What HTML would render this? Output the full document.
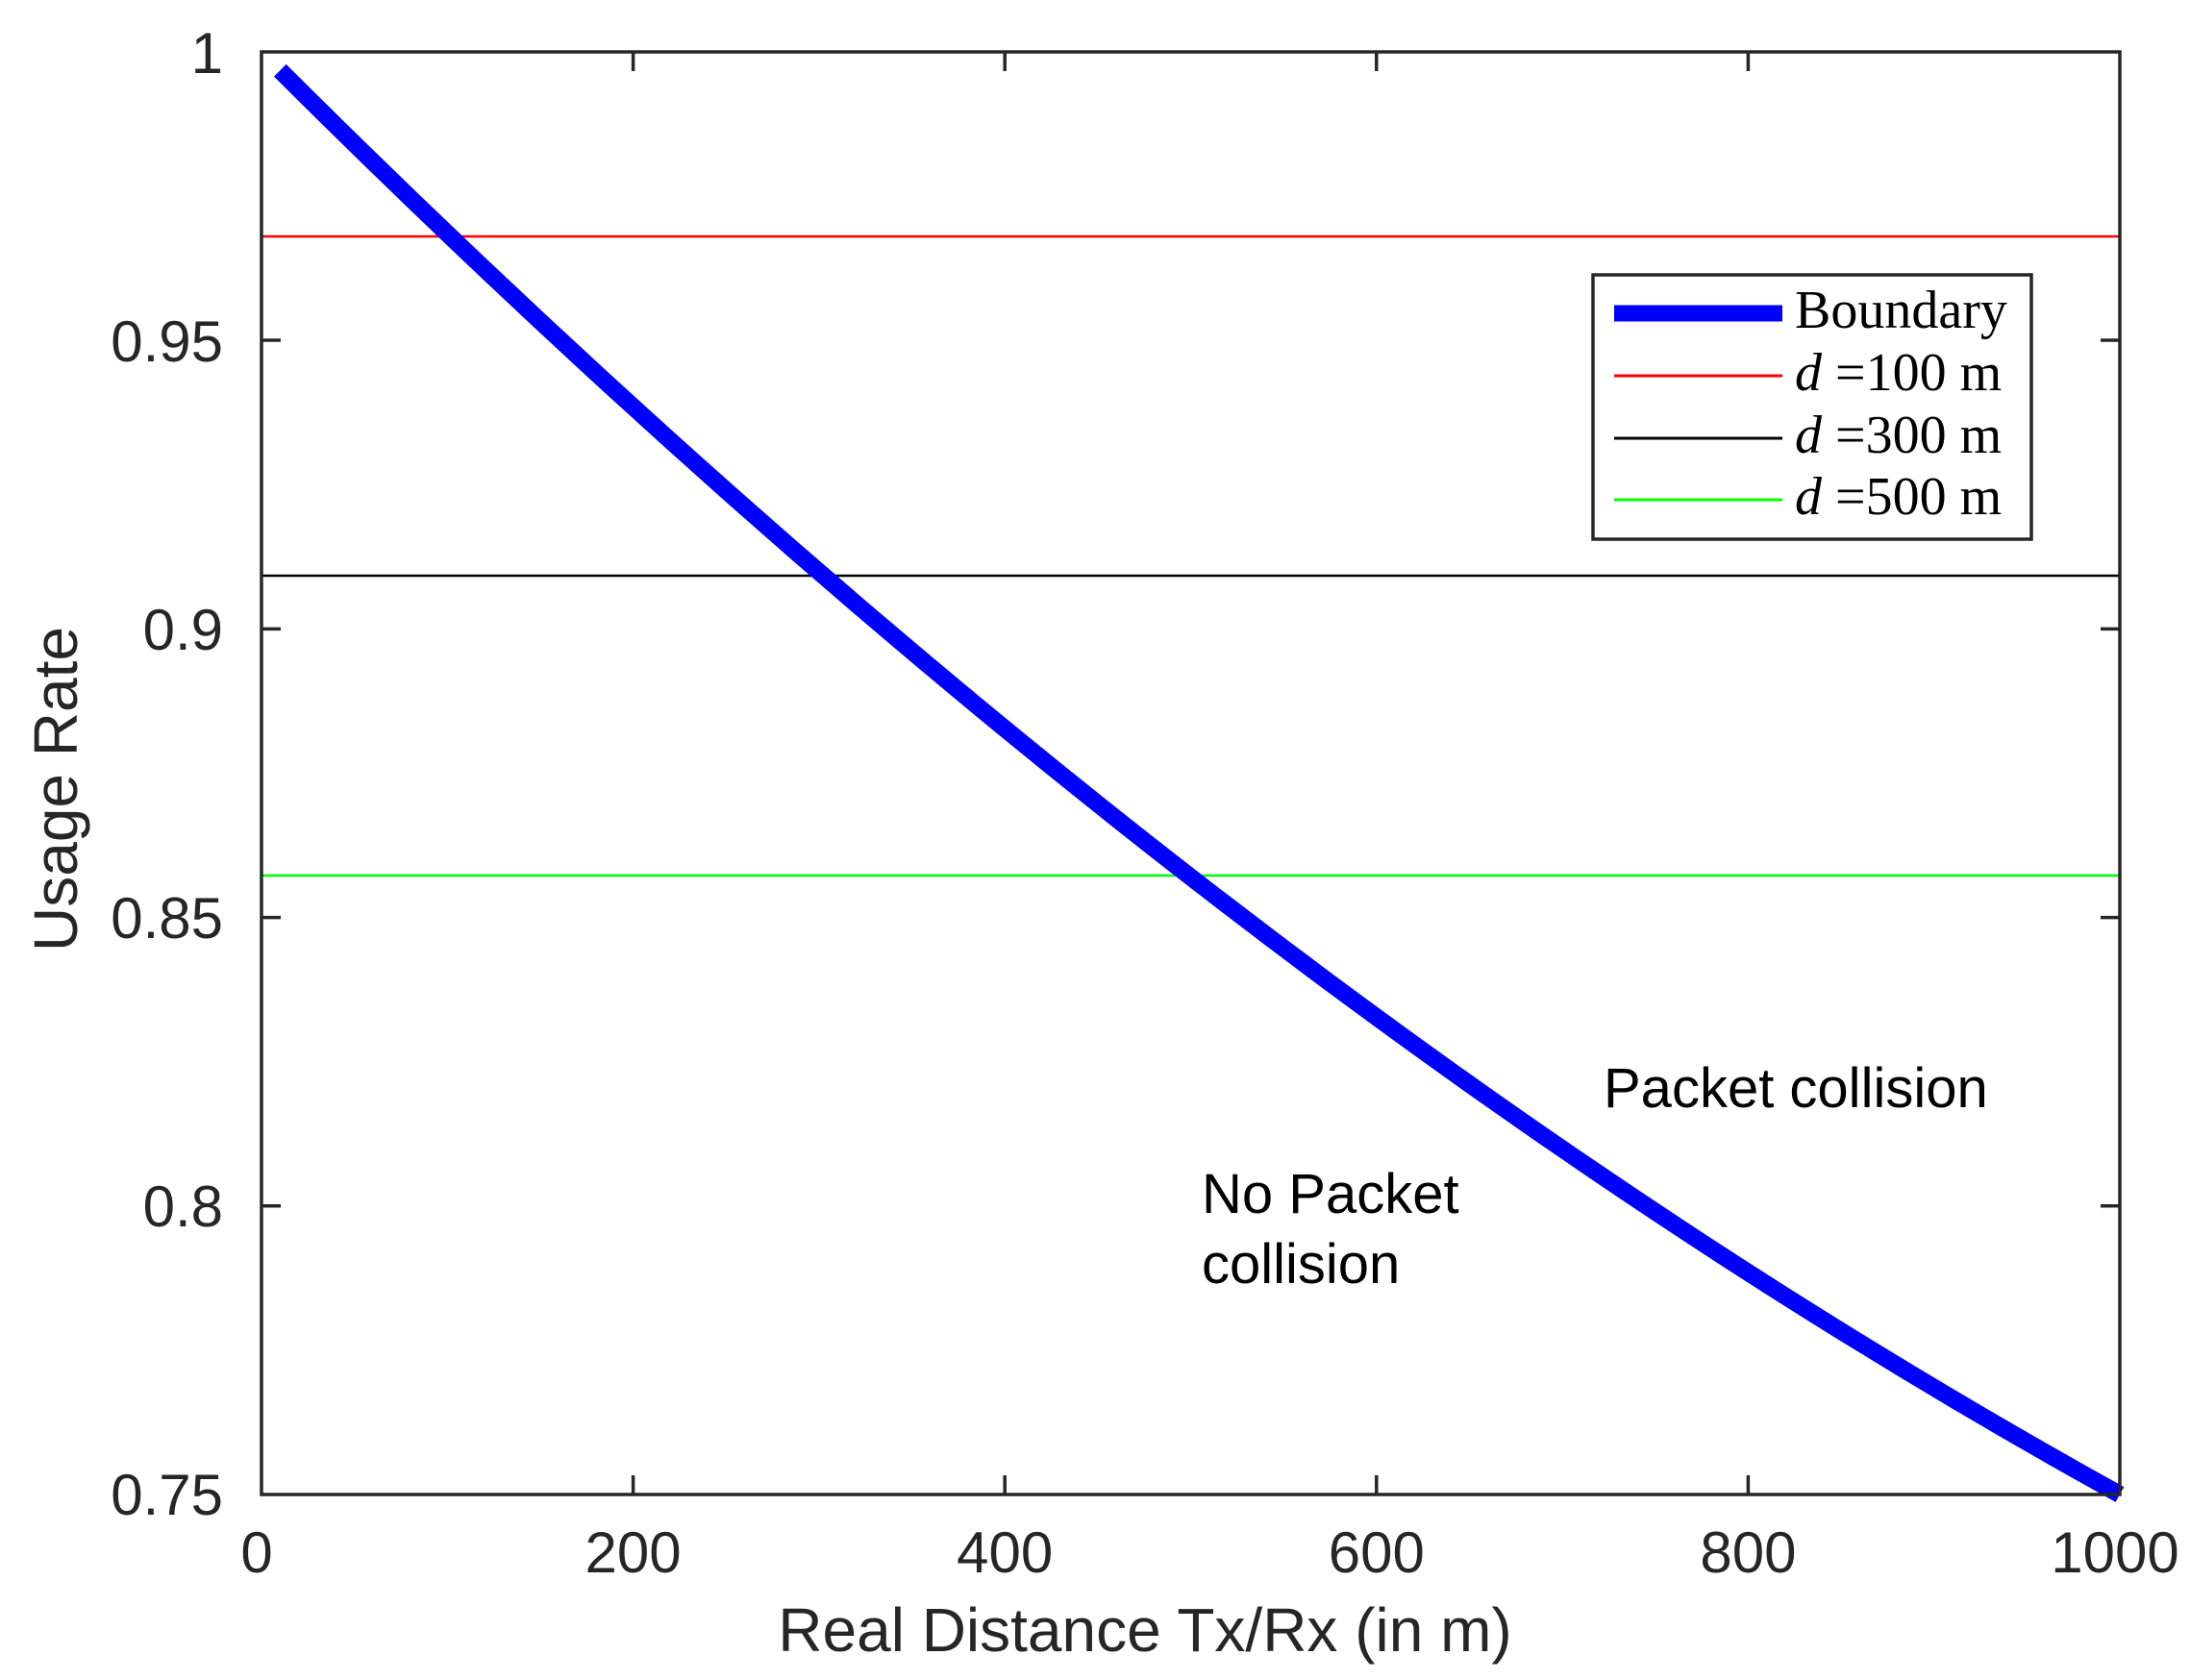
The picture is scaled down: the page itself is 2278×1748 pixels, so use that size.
<!DOCTYPE html>
<html><head><meta charset="utf-8"><style>html,body{margin:0;padding:0;background:#fff}svg{display:block}</style></head>
<body>
<svg width="2278" height="1748" viewBox="0 0 2278 1748" xmlns="http://www.w3.org/2000/svg">
<rect width="2278" height="1748" fill="#fff"/>
<g stroke-width="2.5">
<line x1="272" y1="246" x2="2205" y2="246" stroke="#ff0000"/>
<line x1="272" y1="599" x2="2205" y2="599" stroke="#000"/>
<line x1="272" y1="911" x2="2205" y2="911" stroke="#00ff00"/>
</g>
<path fill="none" stroke="#0000ff" stroke-width="18" d="M291.3,73.3 Q1248.2,1026 2205,1555"/>
<g stroke="#262626" stroke-width="3.5" fill="none">
<rect x="272" y="54" width="1933" height="1501"/>
<path d="M658.6,1555v-20M1045.2,1555v-20M1431.8,1555v-20M1818.4,1555v-20M658.6,54v20M1045.2,54v20M1431.8,54v20M1818.4,54v20M272,354h20M272,654.4h20M272,954.6h20M272,1254.8h20M2205,354h-20M2205,654.4h-20M2205,954.6h-20M2205,1254.8h-20"/>
</g>
<g font-family="Liberation Sans, sans-serif" font-size="60" fill="#262626">
<g text-anchor="end">
<text x="232" y="76">1</text>
<text x="232" y="376">0.95</text>
<text x="232" y="676">0.9</text>
<text x="232" y="976">0.85</text>
<text x="232" y="1276">0.8</text>
<text x="232" y="1576">0.75</text>
</g>
<g text-anchor="middle">
<text x="267" y="1636">0</text>
<text x="658.6" y="1636">200</text>
<text x="1045.2" y="1636">400</text>
<text x="1431.8" y="1636">600</text>
<text x="1818.4" y="1636">800</text>
<text x="2200" y="1636">1000</text>
</g>
<text x="1191" y="1718" text-anchor="middle" font-size="64">Real Distance Tx/Rx (in m)</text>
<text transform="translate(80,821) rotate(-90)" text-anchor="middle" font-size="64">Usage Rate</text>
</g>
<g font-family="Liberation Sans, sans-serif" font-size="58" fill="#000">
<text x="1668" y="1152">Packet collision</text>
<text x="1250" y="1262">No Packet</text>
<text x="1250" y="1335">collision</text>
</g>
<rect x="1657" y="286" width="456" height="275" fill="#fff" stroke="#262626" stroke-width="3.5"/>
<line x1="1679" y1="326" x2="1854" y2="326" stroke="#0000ff" stroke-width="17"/>
<line x1="1679" y1="391" x2="1854" y2="391" stroke="#ff0000" stroke-width="3"/>
<line x1="1679" y1="456" x2="1854" y2="456" stroke="#000" stroke-width="3"/>
<line x1="1679" y1="520" x2="1854" y2="520" stroke="#00ff00" stroke-width="3"/>
<g font-family="Liberation Serif, serif" font-size="56" fill="#000">
<text x="1867" y="341">Boundary</text>
<text x="1867" y="406"><tspan font-style="italic">d</tspan> =100 m</text>
<text x="1867" y="471"><tspan font-style="italic">d</tspan> =300 m</text>
<text x="1867" y="535"><tspan font-style="italic">d</tspan> =500 m</text>
</g>
</svg>
</body></html>
